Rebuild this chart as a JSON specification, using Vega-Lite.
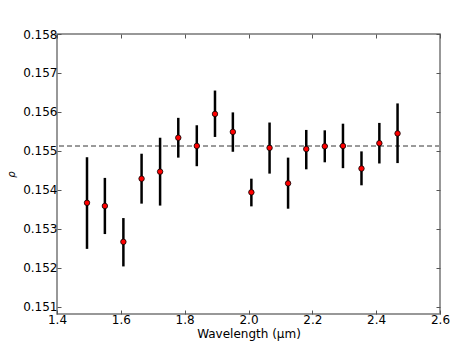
{
  "$schema": "https://vega.github.io/schema/vega-lite/v6.json",
  "autosize": {"type": "none"},
  "padding": {"left": 57, "top": 34, "right": 23, "bottom": 36},
  "width": 383,
  "height": 280,
  "config": {
    "font": "DejaVu Sans",
    "view": {"stroke": "#777777", "strokeWidth": 1.5},
    "axis": {"grid": false, "domain": false, "tickColor": "#555555", "tickSize": -4, "labelFont": "DejaVu Sans", "labelFontSize": 12, "labelColor": "#000000", "titleFont": "DejaVu Sans", "titleFontWeight": "normal", "titleColor": "#000000"}
  },
  "data": {"values": [
    {"w": 1.494, "rho": 0.15367, "lo": 0.15249, "hi": 0.15484},
    {"w": 1.550, "rho": 0.15359, "lo": 0.15287, "hi": 0.15431},
    {"w": 1.608, "rho": 0.15267, "lo": 0.15204, "hi": 0.15328},
    {"w": 1.665, "rho": 0.15429, "lo": 0.15365, "hi": 0.15493},
    {"w": 1.723, "rho": 0.15447, "lo": 0.15360, "hi": 0.15534},
    {"w": 1.780, "rho": 0.15534, "lo": 0.15483, "hi": 0.15585},
    {"w": 1.838, "rho": 0.15513, "lo": 0.15461, "hi": 0.15566},
    {"w": 1.895, "rho": 0.15595, "lo": 0.15536, "hi": 0.15655},
    {"w": 1.951, "rho": 0.15549, "lo": 0.15498, "hi": 0.15599},
    {"w": 2.009, "rho": 0.15394, "lo": 0.15358, "hi": 0.15429},
    {"w": 2.066, "rho": 0.15508, "lo": 0.15442, "hi": 0.15573},
    {"w": 2.124, "rho": 0.15417, "lo": 0.15352, "hi": 0.15483},
    {"w": 2.181, "rho": 0.15505, "lo": 0.15453, "hi": 0.15554},
    {"w": 2.239, "rho": 0.15512, "lo": 0.15471, "hi": 0.15553},
    {"w": 2.296, "rho": 0.15513, "lo": 0.15456, "hi": 0.15570},
    {"w": 2.354, "rho": 0.15455, "lo": 0.15412, "hi": 0.15499},
    {"w": 2.410, "rho": 0.15520, "lo": 0.15468, "hi": 0.15572},
    {"w": 2.467, "rho": 0.15545, "lo": 0.15469, "hi": 0.15622}
  ]},
  "resolve": {"axis": {"x": "independent", "y": "independent"}},
  "layer": [
    {
      "mark": {"type": "rule", "color": "#999999", "strokeDash": [5, 3], "strokeWidth": 1},
      "encoding": {
        "y": {"datum": 0.15512, "type": "quantitative", "scale": {"domain": [0.15082, 0.158], "nice": false, "zero": false}, "axis": {"orient": "right", "labels": false, "title": null, "values": [0.151, 0.152, 0.153, 0.154, 0.155, 0.156, 0.157, 0.158]}}
      }
    },
    {
      "mark": {"type": "rule", "color": "#000000", "strokeWidth": 2.5},
      "encoding": {
        "x": {"field": "w", "type": "quantitative", "scale": {"domain": [1.4, 2.6], "nice": false, "zero": false}, "axis": {"orient": "top", "labels": false, "title": null, "values": [1.4, 1.6, 1.8, 2.0, 2.2, 2.4, 2.6]}},
        "y": {"field": "lo", "type": "quantitative", "scale": {"domain": [0.15082, 0.158], "nice": false, "zero": false}, "axis": null},
        "y2": {"field": "hi"}
      }
    },
    {
      "mark": {"type": "point", "filled": true, "shape": "circle", "size": 30, "color": "#ff0000", "stroke": "#000000", "strokeWidth": 0.8, "opacity": 1},
      "encoding": {
        "x": {"field": "w", "type": "quantitative", "scale": {"domain": [1.4, 2.6], "nice": false, "zero": false}, "axis": {"orient": "bottom", "title": "Wavelength (μm)", "titleFontSize": 12, "titlePadding": 3, "labelPadding": 4, "format": ".1f", "values": [1.4, 1.6, 1.8, 2.0, 2.2, 2.4, 2.6], "labelFlush": false}},
        "y": {"field": "rho", "type": "quantitative", "scale": {"domain": [0.15082, 0.158], "nice": false, "zero": false}, "axis": {"orient": "left", "title": "ρ", "titleFontSize": 10, "titleFontStyle": "italic", "titlePadding": 6, "format": ".3f", "labelPadding": 4, "values": [0.151, 0.152, 0.153, 0.154, 0.155, 0.156, 0.157, 0.158], "labelFlush": false}}
      }
    }
  ]
}
